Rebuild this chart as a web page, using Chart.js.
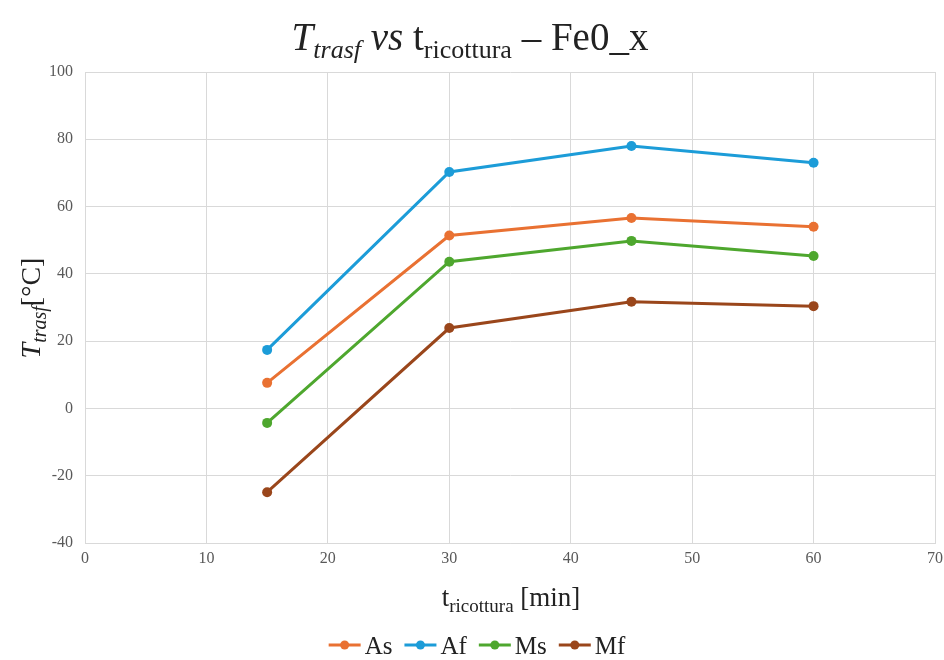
<!DOCTYPE html>
<html>
<head>
<meta charset="utf-8">
<script src="https://cdn.jsdelivr.net/npm/chart.js@4.4.1/dist/chart.umd.min.js"></script>
<style>
  html, body { margin: 0; padding: 0; background: #ffffff; }
  #wrap { width: 944px; height: 660px; position: relative; }
</style>
</head>
<body>
<div id="wrap"><canvas id="c" width="944" height="660"></canvas></div>
<script>
// Annealing time [min]
const annealTimes = [15, 30, 45, 60];
// Transformation temperatures [°C]
const asValues = [7.6, 51.4, 56.6, 54.0];
const afValues = [17.4, 70.3, 78.0, 73.0];
const msValues = [-4.3, 43.6, 49.8, 45.3];
const mfValues = [-24.9, 23.9, 31.7, 30.4];

const seriesLabels = ['As', 'Af', 'Ms', 'Mf'];
const seriesColors = ['#E97132', '#1C9CD8', '#4EA72E', '#9A461B'];
const seriesValues = [asValues, afValues, msValues, mfValues];

const SERIF = '"Liberation Serif", "DejaVu Serif", serif';
const TEXT = '#222222';

// Draws a sequence of text runs (normal / subscript) starting at x, baseline y
function runsWidth(ctx, runs) {
  let w = 0;
  for (const r of runs) { ctx.font = r.font; w += ctx.measureText(r.text).width; }
  return w;
}
function drawRuns(ctx, runs, x, y) {
  for (const r of runs) {
    ctx.font = r.font;
    ctx.fillText(r.text, x, y + (r.dy || 0));
    x += ctx.measureText(r.text).width;
  }
}

const textPlugin = {
  id: 'serifTexts',
  afterDraw(chart) {
    const ctx = chart.ctx;
    ctx.save();
    ctx.fillStyle = TEXT;
    ctx.textBaseline = 'alphabetic';
    ctx.textAlign = 'left';

    // Title
    const title = [
      { text: 'T', font: 'italic 39px ' + SERIF },
      { text: 'trasf', font: 'italic 26px ' + SERIF, dy: 8 },
      { text: ' vs', font: 'italic 39px ' + SERIF },
      { text: ' t', font: '39px ' + SERIF },
      { text: 'ricottura', font: '26px ' + SERIF, dy: 8 },
      { text: ' \u2013 Fe0_x', font: '39px ' + SERIF }
    ];
    const tw = runsWidth(ctx, title);
    drawRuns(ctx, title, 470 - tw / 2, 50);

    // X axis title
    const xt = [
      { text: 't', font: '27px ' + SERIF },
      { text: 'ricottura', font: '19px ' + SERIF, dy: 6 },
      { text: ' [min]', font: '27px ' + SERIF }
    ];
    const xw = runsWidth(ctx, xt);
    drawRuns(ctx, xt, 511 - xw / 2, 606);

    // Y axis title (rotated)
    const yt = [
      { text: 'T', font: 'italic 28px ' + SERIF },
      { text: 'trasf', font: 'italic 20px ' + SERIF, dy: 6 },
      { text: '[\u00B0C]', font: '28px ' + SERIF }
    ];
    const yw = runsWidth(ctx, yt);
    ctx.save();
    ctx.translate(40, 308);
    ctx.rotate(-Math.PI / 2);
    drawRuns(ctx, yt, -yw / 2, 0);
    ctx.restore();

    // Legend: line with marker, then label
    ctx.font = '25px ' + SERIF;
    const seg = 32, gap = 4, itemGap = 12;
    const items = chart.data.datasets.map(d => ({ label: d.label, color: d.borderColor, w: seg + gap + ctx.measureText(d.label).width }));
    const total = items.reduce((s, it) => s + it.w, 0) + itemGap * (items.length - 1);
    let lx = 477 - total / 2;
    const ly = 645;
    for (const it of items) {
      ctx.strokeStyle = it.color;
      ctx.lineWidth = 3;
      ctx.beginPath();
      ctx.moveTo(lx, ly);
      ctx.lineTo(lx + seg, ly);
      ctx.stroke();
      ctx.fillStyle = it.color;
      ctx.beginPath();
      ctx.arc(lx + seg / 2, ly, 4.5, 0, Math.PI * 2);
      ctx.fill();
      ctx.fillStyle = TEXT;
      ctx.fillText(it.label, lx + seg + gap, ly + 9);
      lx += it.w + itemGap;
    }
    ctx.restore();
  }
};

const datasets = seriesLabels.map((label, i) => ({
  label,
  data: annealTimes.map((t, j) => ({ x: t, y: seriesValues[i][j] })),
  borderColor: seriesColors[i],
  backgroundColor: seriesColors[i],
  borderWidth: 3,
  pointRadius: 5,
  pointHoverRadius: 5,
  pointBorderWidth: 0,
  tension: 0,
  fill: false
}));

new Chart(document.getElementById('c'), {
  type: 'line',
  data: { datasets },
  plugins: [textPlugin],
  options: {
    responsive: false,
    animation: false,
    events: [],
    layout: { padding: { left: 0, top: 72, right: 0, bottom: 0 } },
    plugins: { legend: { display: false }, title: { display: false }, tooltip: { enabled: false } },
    scales: {
      x: {
        type: 'linear',
        min: 0, max: 70,
        afterFit(scale) { scale.height = 117; scale.paddingRight = 9; scale.paddingLeft = 0; },
        ticks: { stepSize: 10, color: '#595959', font: { family: SERIF, size: 16 }, padding: 6, maxRotation: 0 },
        grid: { color: '#d9d9d9', lineWidth: 1, drawTicks: false },
        border: { color: '#d9d9d9' }
      },
      y: {
        min: -40, max: 100,
        afterFit(scale) { scale.width = 85; },
        ticks: { stepSize: 20, color: '#595959', font: { family: SERIF, size: 16 }, padding: 12 },
        grid: { color: '#d9d9d9', lineWidth: 1, drawTicks: false },
        border: { color: '#d9d9d9' }
      }
    }
  }
});
</script>
</body>
</html>
